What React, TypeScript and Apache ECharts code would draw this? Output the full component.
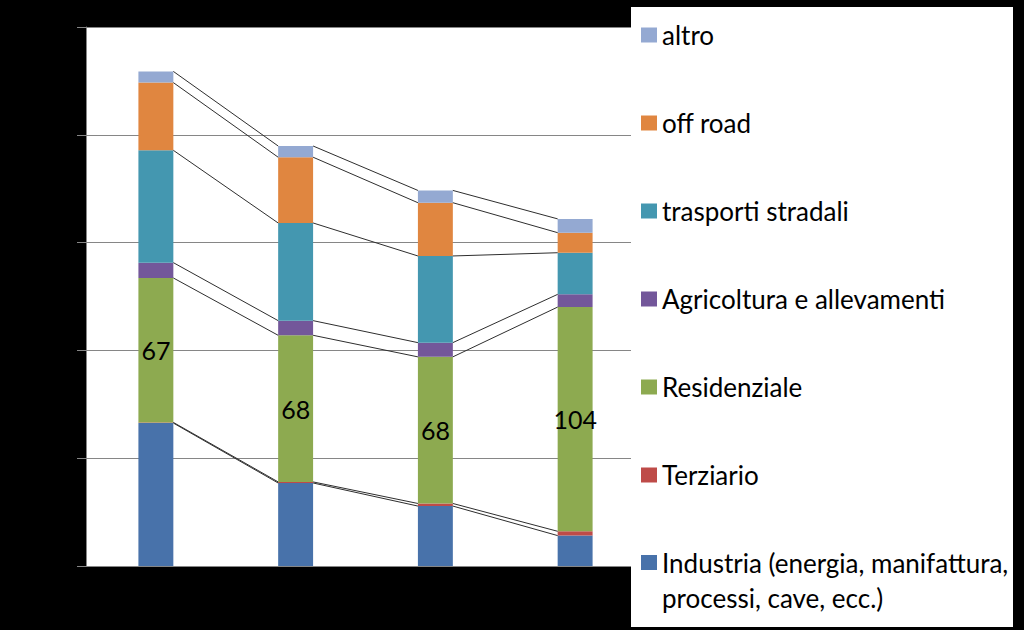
import React, { useEffect, useRef } from "react";
import * as echarts from "echarts";

const categories = ["1", "2", "3", "4"];
const industriaName = "Industria (energia, manifattura, processi, cave, ecc.)";
const seriesNames = [
  industriaName,
  "Terziario",
  "Residenziale",
  "Agricoltura e allevamenti",
  "trasporti stradali",
  "off road",
  "altro",
];
const industria = [66.3, 38.5, 27.8, 14.1];
const terziario = [0.3, 0.5, 1.2, 2.0];
const residenziale = [67, 68, 68, 104];
const agricoltura = [7.1, 6.8, 6.6, 5.9];
const trasporti = [52.1, 45.3, 40.2, 19.3];
const offRoad = [31.4, 30.5, 24.7, 9.3];
const altro = [5.2, 5.2, 5.7, 6.4];
const yTicks = [0, 50, 100, 150, 200, 250];

const seriesValues = [industria, terziario, residenziale, agricoltura, trasporti, offRoad, altro];
const colors = ["#4872AA", "#BE4B48", "#8DAA50", "#73579A", "#4497B0", "#E08640", "#94A9D2"];

const FONT = "Lato";

function stackTops(i: number): number[] {
  let c = 0;
  return seriesValues.map((arr) => (c += arr[i]));
}

export default function App() {
  const ref = useRef<HTMLDivElement>(null);
  useEffect(() => {
    if (!ref.current) return;
    const chart = echarts.init(ref.current, null, { renderer: "svg" });
    const barSeries = seriesNames.map((name, k) => ({
      name,
      type: "bar",
      stack: "total",
      barWidth: "25%",
      data: seriesValues[k],
      itemStyle: { color: colors[k] },
      z: 2,
      label:
        k === 2
          ? {
              show: true,
              position: "inside",
              color: "#000",
              fontSize: 25,
              fontFamily: FONT,
              textBorderWidth: 0,
            }
          : { show: false },
    }));
    const linkData = categories.slice(0, -1).map((_, i) => [i, 0]);
    const option: any = {
      animation: false,
      backgroundColor: "#000",
      grid: {
        left: 86,
        top: 27,
        right: 379,
        bottom: 64,
        show: true,
        backgroundColor: "#fff",
        borderWidth: 0,
      },
      xAxis: {
        type: "category",
        data: categories,
        axisLine: { show: true, lineStyle: { color: "#868686", width: 1 } },
        axisTick: { show: false },
        axisLabel: { show: false },
      },
      yAxis: {
        type: "value",
        min: yTicks[0],
        max: yTicks[yTicks.length - 1],
        interval: yTicks[1] - yTicks[0],
        axisLine: { show: true, lineStyle: { color: "#868686", width: 1 } },
        axisTick: { show: true, length: 9, lineStyle: { color: "#868686" } },
        axisLabel: { show: false },
        splitLine: { show: true, lineStyle: { color: "#868686", width: 1 } },
      },
      legend: [
        {
          orient: "vertical",
          left: 641,
          top: 22,
          padding: 0,
          itemGap: 62,
          itemWidth: 16,
          itemHeight: 15,
          icon: "rect",
          selectedMode: false,
          z: 60,
          data: seriesNames.slice(1).reverse(),
          textStyle: { color: "#000", fontSize: 26, fontFamily: FONT, lineHeight: 26 },
        },
        {
          orient: "vertical",
          left: 641,
          top: 510,
          padding: 0,
          itemWidth: 16,
          itemHeight: 15,
          icon: "rect",
          selectedMode: false,
          z: 60,
          data: [industriaName],
          formatter: () => " \nIndustria (energia, manifattura,\nprocessi, cave, ecc.)",
          textStyle: {
            color: "#000",
            fontSize: 26,
            fontFamily: FONT,
            lineHeight: 35,
          },
        },
      ],
      graphic: {
        elements: [
          {
            type: "rect",
            z: 50,
            shape: { x: 631, y: 7, width: 382, height: 620 },
            style: { fill: "#fff" },
          },
        ],
      },
      series: [
        ...barSeries,
        {
          type: "custom",
          name: "seriesLines",
          z: 3,
          data: linkData,
          encode: { x: 0, y: 1 },
          renderItem: (params: any, api: any) => {
            const i = params.dataIndex;
            const band = api.size([1, 0])[0];
            const hw = band * 0.125;
            const a = stackTops(i);
            const b = stackTops(i + 1);
            const children = a.map((v, k) => {
              const p1 = api.coord([i, v]);
              const p2 = api.coord([i + 1, b[k]]);
              return {
                type: "line",
                shape: { x1: p1[0] + hw, y1: p1[1], x2: p2[0] - hw, y2: p2[1] },
                style: { stroke: "#2e2e2e", lineWidth: 1 },
              };
            });
            return { type: "group", children };
          },
        },
      ],
    };
    chart.setOption(option);
    return () => chart.dispose();
  }, []);
  return (
    <div
      ref={ref}
      style={{ position: "fixed", left: 0, top: 0, width: 1024, height: 630 }}
    />
  );
}
